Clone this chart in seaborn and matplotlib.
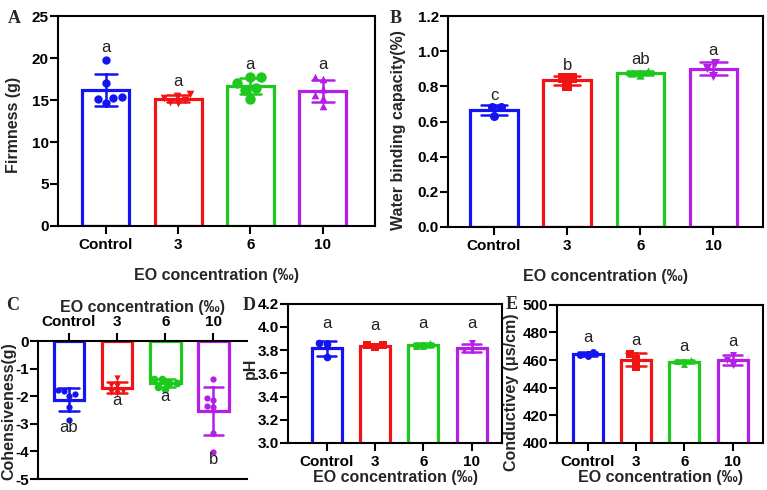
import pandas as pd
import matplotlib
matplotlib.use('Agg')
import matplotlib.pyplot as plt
import seaborn as sns

# groups / colours
groups = ['Control', '3', '6', '10']
colors = ['#1414f0', '#f01414', '#1ec81e', '#b41ee6']

# A - firmness (g)
firm_ctrl = [19.8, 17.0, 15.4, 15.2, 15.1, 14.7]
firm_3 = [15.7, 15.5, 15.3, 15.0, 14.8, 14.6]
firm_6 = [17.7, 17.7, 17.0, 16.4, 16.2, 15.1]
firm_10 = [17.7, 17.5, 16.3, 15.6, 15.3, 14.3]
firm_letters = ['a', 'a', 'a', 'a']

# B - water binding capacity (%)
wbc_ctrl = [0.68, 0.68, 0.63]
wbc_3 = [0.85, 0.85, 0.805]
wbc_6 = [0.885, 0.878, 0.866]
wbc_10 = [0.935, 0.902, 0.862]
wbc_letters = ['c', 'b', 'ab', 'a']

# C - cohesiveness (g)
coh_ctrl = [-1.78, -1.82, -1.92, -1.98, -2.38, -2.86]
coh_3 = [-1.35, -1.58, -1.62, -1.80, -1.86, -1.90]
coh_6 = [-1.36, -1.36, -1.51, -1.51, -1.66, -1.75]
coh_10 = [-1.36, -2.08, -2.15, -2.35, -2.40, -3.32, -4.02]
coh_letters = ['ab', 'a', 'a', 'b']

# D - pH
ph_ctrl = [3.86, 3.85, 3.74]
ph_3 = [3.845, 3.845, 3.825]
ph_6 = [3.86, 3.84, 3.835]
ph_10 = [3.86, 3.80, 3.80]
ph_letters = ['a', 'a', 'a', 'a']

# E - conductivity
cond_ctrl = [466, 464, 463]
cond_3 = [464.5, 461, 455]
cond_6 = [460, 459, 457.5]
cond_10 = [463.5, 460, 456.5]
cond_letters = ['a', 'a', 'a', 'a']

sns.set_style('ticks')
plt.rcParams['font.family'] = ['Liberation Sans', 'DejaVu Sans']
plt.rcParams['axes.unicode_minus'] = False
plt.rcParams['xtick.major.width'] = 1.5
plt.rcParams['ytick.major.width'] = 1.5
plt.rcParams['xtick.major.size'] = 5.5
plt.rcParams['ytick.major.size'] = 5.5
plt.rcParams['xtick.major.pad'] = 3
plt.rcParams['ytick.major.pad'] = 1
plt.rcParams['xtick.color'] = 'black'
plt.rcParams['ytick.color'] = 'black'

TICK_FS = 11
LAB_FS = 11.5


def make_df(lists):
    rows = []
    for g, vals in zip(groups, lists):
        for v in vals:
            rows.append({'group': g, 'value': v})
    return pd.DataFrame(rows)


def draw_panel(ax, lists, markers, sizes, capsize=0.32, width=0.65):
    df = make_df(lists)
    sns.barplot(data=df, x='group', y='value', hue='group', order=groups,
                hue_order=groups, palette=colors, fill=False, width=width,
                linewidth=2.3, errorbar='sd', capsize=capsize,
                err_kws={'linewidth': 1.8}, legend=False, ax=ax)
    for g, c, m, s in zip(groups, colors, markers, sizes):
        sns.swarmplot(data=df[df['group'] == g], x='group', y='value',
                      order=groups, color=c, marker=m, size=s, ax=ax)
    return df


def add_letters(ax, lists, letters, pad, below=False):
    for i, (vals, lab) in enumerate(zip(lists, letters)):
        y = min(vals) - pad if below else max(vals) + pad
        ax.text(i, y, lab, ha='center', va='center', fontsize=12, color='#222222')


def style(ax, ylab, ylab_xy, xlab, xpad):
    ax.set_ylabel(ylab, fontsize=LAB_FS, fontweight='bold')
    ax.yaxis.set_label_coords(*ylab_xy)
    ax.set_xlabel(xlab, fontsize=LAB_FS, fontweight='bold', labelpad=xpad)
    ax.tick_params(labelsize=TICK_FS, colors='black')
    for lab in ax.get_xticklabels() + ax.get_yticklabels():
        lab.set_fontweight('bold')
    for sp in ax.spines.values():
        sp.set_linewidth(1.5)
        sp.set_color('black')
        sp.set_zorder(5)


xlab = 'EO concentration (‰)'
fig = plt.figure(figsize=(7.67, 4.90), dpi=100)

# ---- A
axA = fig.add_axes([0.0756, 0.539, 0.413, 0.428])
A = [firm_ctrl, firm_3, firm_6, firm_10]
draw_panel(axA, A, ['o', 'v', 'o', '^'], [6, 5.5, 7.5, 5.5], capsize=0.3)
add_letters(axA, A, firm_letters, 1.5)
axA.set_ylim(0, 25)
axA.set_yticks([0, 5, 10, 15, 20, 25])
axA.set_xlim(-0.66, 3.72)
style(axA, 'Firmness (g)', (-0.117, 0.48), xlab, 12)

# ---- B
axB = fig.add_axes([0.584, 0.537, 0.411, 0.430])
B = [wbc_ctrl, wbc_3, wbc_6, wbc_10]
draw_panel(axB, B, ['o', 's', '^', 'v'], [6.5, 6.5, 6, 6.5], capsize=0.36)
add_letters(axB, B, wbc_letters, 0.07)
axB.set_ylim(0, 1.2)
bt = [0, 0.2, 0.4, 0.6, 0.8, 1.0, 1.2]
axB.set_yticks(bt)
axB.set_yticklabels([f'{v:.1f}' for v in bt])
axB.set_xlim(-0.63, 3.68)
style(axB, 'Water binding capacity(%)', (-0.133, 0.46), xlab, 12)

# ---- C
axC = fig.add_axes([0.0495, 0.0224, 0.2725, 0.2816])
C = [coh_ctrl, coh_3, coh_6, coh_10]
draw_panel(axC, C, ['o', 'v', 'o', 'o'], [4.5, 4.5, 5.5, 4.5], capsize=0.4, width=0.64)
add_letters(axC, C, coh_letters, 0.27, below=True)
axC.set_ylim(-5, 0)
axC.set_yticks([-5, -4, -3, -2, -1, 0])
axC.set_xlim(-0.645, 3.70)
axC.xaxis.tick_top()
axC.xaxis.set_label_position('top')
axC.spines['right'].set_visible(False)
style(axC, 'Cohensiveness(g)', (-0.105, 0.49), xlab, 2)

# ---- D
axD = fig.add_axes([0.3755, 0.096, 0.279, 0.284])
D = [ph_ctrl, ph_3, ph_6, ph_10]
draw_panel(axD, D, ['o', 's', '^', 'v'], [5.5, 5.5, 5, 5], capsize=0.4, width=0.62)
add_letters(axD, D, ph_letters, 0.17)
axD.set_ylim(3.0, 4.2)
dt = [3.0, 3.2, 3.4, 3.6, 3.8, 4.0, 4.2]
axD.set_yticks(dt)
axD.set_yticklabels([f'{v:.1f}' for v in dt])
axD.set_xlim(-0.8, 3.63)
style(axD, 'pH', (-0.14, 0.54), xlab, 1)

# ---- E
axE = fig.add_axes([0.726, 0.096, 0.269, 0.282])
E = [cond_ctrl, cond_3, cond_6, cond_10]
draw_panel(axE, E, ['o', 's', '^', 'v'], [5, 5.5, 5, 5], capsize=0.4, width=0.62)
add_letters(axE, E, cond_letters, 10)
axE.set_ylim(400, 500)
axE.set_yticks([400, 420, 440, 460, 480, 500])
axE.set_xlim(-0.635, 3.63)
style(axE, 'Conductivey (μs/cm)', (-0.184, 0.37), xlab, 1)

# panel letters
for lab, x, y in [('A', 0.010, 0.962), ('B', 0.508, 0.962), ('C', 0.008, 0.376),
                  ('D', 0.316, 0.376), ('E', 0.659, 0.378)]:
    fig.text(x, y, lab, fontsize=13, fontweight='bold', family='Liberation Serif',
             va='center')

fig.savefig('out.png', dpi=100)
